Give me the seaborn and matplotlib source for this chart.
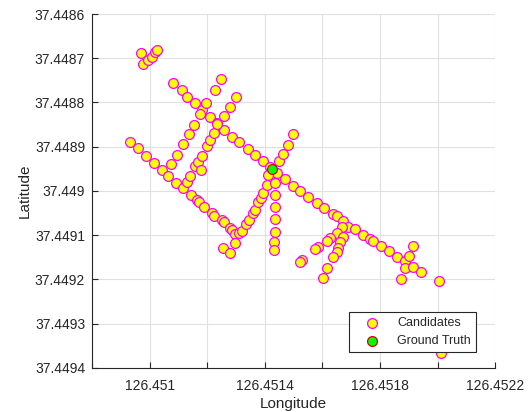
import numpy as np
import pandas as pd
import seaborn as sns
import matplotlib
matplotlib.use("Agg")
import matplotlib.pyplot as plt
from matplotlib.ticker import FixedLocator, FuncFormatter

# Candidate positions, grouped by the road segment they fall on
cluster_lon = [126.450970, 126.450977, 126.450994, 126.451008, 126.451019, 126.451026]
cluster_lat = [37.448688, 37.448713, 37.448704, 37.448697, 37.448686, 37.448681]

main_lon = [126.451081, 126.451113, 126.451130, 126.451158, 126.451182, 126.451210,
            126.451234, 126.451258, 126.451286, 126.451310, 126.451342, 126.451366,
            126.451394, 126.451418, 126.451442, 126.451470, 126.451498, 126.451522,
            126.451550, 126.451581, 126.451606, 126.451637, 126.451651, 126.451672,
            126.451689, 126.451713, 126.451741, 126.451765, 126.451776, 126.451803,
            126.451831, 126.451859, 126.451887]
main_lat = [37.448756, 37.448772, 37.448788, 37.448801, 37.448817, 37.448833,
            37.448846, 37.448862, 37.448878, 37.448889, 37.448905, 37.448919,
            37.448932, 37.448946, 37.448959, 37.448973, 37.448989, 37.449000,
            37.449014, 37.449027, 37.449038, 37.449052, 37.449057, 37.449068,
            37.449081, 37.449086, 37.449100, 37.449109, 37.449113, 37.449124,
            37.449136, 37.449149, 37.449158]

lower_lon = [126.450932, 126.450960, 126.450988, 126.451015, 126.451043, 126.451064,
             126.451092, 126.451116, 126.451144, 126.451165, 126.451172, 126.451189,
             126.451217, 126.451224, 126.451251, 126.451258, 126.451279, 126.451286,
             126.451297]
lower_lat = [37.448889, 37.448903, 37.448921, 37.448937, 37.448953, 37.448966,
             37.448982, 37.448993, 37.449009, 37.449020, 37.449025, 37.449036,
             37.449050, 37.449057, 37.449066, 37.449070, 37.449084, 37.449088,
             37.449097]

west_a_lon = [126.451074, 126.451095, 126.451116, 126.451137, 126.451154, 126.451175,
              126.451196, 126.451227, 126.451248]
west_a_lat = [37.448939, 37.448919, 37.448894, 37.448871, 37.448851, 37.448826,
              37.448801, 37.448772, 37.448747]

west_b_lon = [126.451130, 126.451140, 126.451158, 126.451168, 126.451178, 126.451182,
              126.451199, 126.451210, 126.451224, 126.451234, 126.451258, 126.451279,
              126.451300]
west_b_lat = [37.448980, 37.448966, 37.448944, 37.448934, 37.448953, 37.448921,
              37.448898, 37.448885, 37.448869, 37.448849, 37.448831, 37.448810,
              37.448788]

east_lon = [126.451255, 126.451279, 126.451297, 126.451310, 126.451321, 126.451335,
            126.451345, 126.451359, 126.451366, 126.451376, 126.451387, 126.451394,
            126.451408, 126.451411, 126.451449, 126.451463, 126.451481, 126.451498]
east_lat = [37.449129, 37.449140, 37.449118, 37.449095, 37.449090, 37.449075,
            37.449066, 37.449050, 37.449043, 37.449025, 37.449016, 37.449005,
            37.448986, 37.448964, 37.448932, 37.448916, 37.448896, 37.448871]

vert_lon = [126.451435, 126.451435, 126.451435, 126.451435, 126.451435, 126.451432,
            126.451432]
vert_lat = [37.448982, 37.449009, 37.449036, 37.449063, 37.449093, 37.449115,
            37.449133]

branch_lon = [126.451668, 126.451651, 126.451626, 126.451616, 126.451585, 126.451574,
              126.451529, 126.451522,
              126.451672, 126.451661, 126.451654, 126.451651, 126.451637, 126.451616,
              126.451602]
branch_lat = [37.449081, 37.449095, 37.449106, 37.449113, 37.449127, 37.449131,
              37.449156, 37.449160,
              37.449104, 37.449115, 37.449129, 37.449138, 37.449149, 37.449174,
              37.449197]

far_lon = [126.451915, 126.451901, 126.451887, 126.451915, 126.451942, 126.451873,
           126.452005, 126.452012]
far_lat = [37.449124, 37.449147, 37.449174, 37.449172, 37.449183, 37.449199,
           37.449203, 37.449366]

truth_lon = [126.451425]
truth_lat = [37.448950]

x_ticks = [126.4508, 126.4510, 126.4512, 126.4514, 126.4516, 126.4518, 126.4520, 126.4522]
x_labels = ["", "126.451", "", "126.4514", "", "126.4518", "", "126.4522"]
y_ticks = [37.4486, 37.4487, 37.4488, 37.4489, 37.4490, 37.4491, 37.4492, 37.4493, 37.4494]

cand = pd.DataFrame({
    "lon": cluster_lon + main_lon + lower_lon + west_a_lon + west_b_lon
           + east_lon + vert_lon + branch_lon + far_lon,
    "lat": cluster_lat + main_lat + lower_lat + west_a_lat + west_b_lat
           + east_lat + vert_lat + branch_lat + far_lat,
})
truth = pd.DataFrame({"lon": truth_lon, "lat": truth_lat})

sns.set_style("white")
plt.rcParams["font.family"] = ["Liberation Sans", "DejaVu Sans"]
ink = "#262626"

fig = plt.figure(figsize=(5.29, 4.12), dpi=100)
ax = fig.add_axes([0.174, 0.107, 0.762, 0.859])

sns.scatterplot(data=cand, x="lon", y="lat", ax=ax, s=50, color="#ffff00",
                edgecolor="#ff00ff", linewidth=0.9, label="Candidates", zorder=3)
sns.scatterplot(data=truth, x="lon", y="lat", ax=ax, s=50, color="#00ff00",
                edgecolor="#dd0000", linewidth=0.9, label="Ground Truth", zorder=4)

ax.set_xlim(126.4508, 126.4522)
ax.set_ylim(37.4494, 37.4486)
ax.xaxis.set_major_locator(FixedLocator(x_ticks))
ax.set_xticklabels(x_labels)
ax.yaxis.set_major_locator(FixedLocator(y_ticks))
ax.yaxis.set_major_formatter(FuncFormatter(lambda v, p: f"{v:.4f}".rstrip("0")))

ax.grid(True, color="#e0e0e0", linewidth=0.8)
ax.set_axisbelow(True)
for side in ("top", "right"):
    ax.spines[side].set_visible(False)
for side in ("left", "bottom"):
    ax.spines[side].set_color(ink)
    ax.spines[side].set_linewidth(0.8)
ax.tick_params(direction="in", length=4, width=0.8, colors=ink, labelsize=10,
               labelcolor=ink, left=True, bottom=True)
ax.tick_params(axis="y", pad=5)
ax.tick_params(axis="x", pad=8)

ax.set_xlabel("Longitude", fontsize=11, color=ink, labelpad=3)
ax.set_ylabel("Latitude", fontsize=11, color=ink, labelpad=2)

leg = ax.legend(loc="lower right", bbox_to_anchor=(0.953, 0.045), borderaxespad=0,
                frameon=True, fancybox=False, framealpha=1, edgecolor=ink,
                fontsize=9, handletextpad=0.5, borderpad=0.4, labelspacing=0.45,
                handlelength=3.0)
leg.get_frame().set_linewidth(0.8)
leg.set_zorder(10)

fig.savefig("out.png", dpi=100)
